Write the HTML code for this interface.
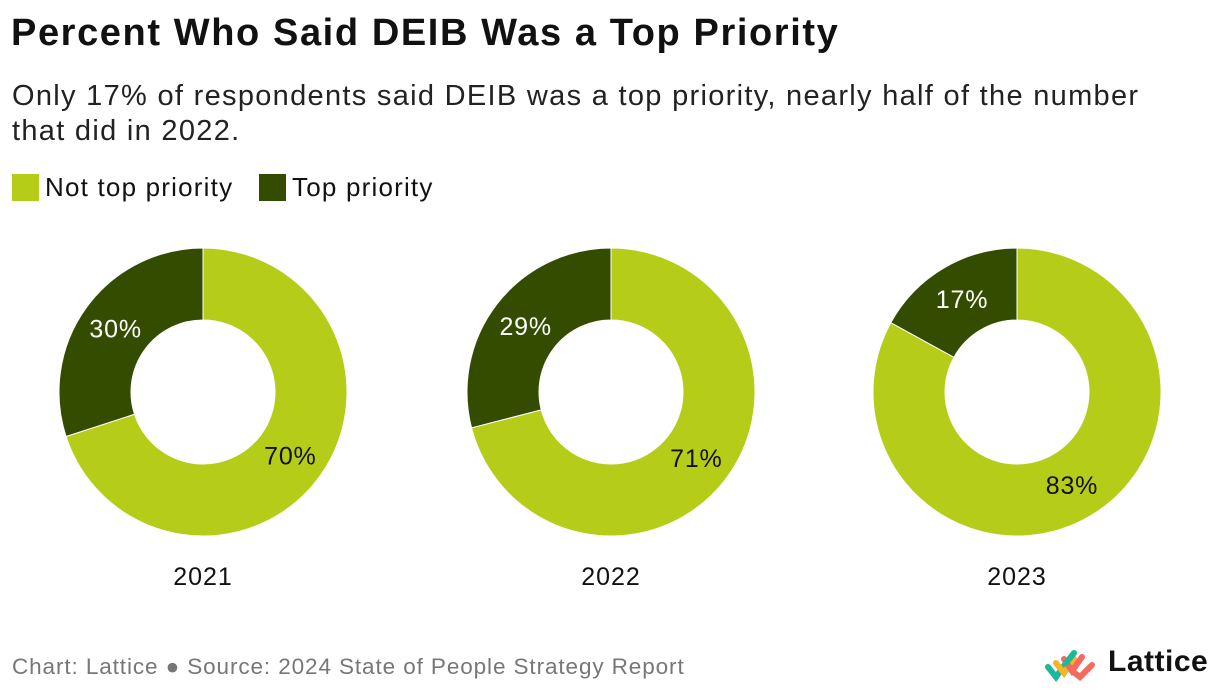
<!DOCTYPE html>
<html><head><meta charset="utf-8"><style>
body{margin:0;width:1220px;height:690px;background:#fff;font-family:"Liberation Sans",sans-serif;color:#111;position:relative;overflow:hidden}
.t{position:absolute;left:11px;top:12px;font-size:38px;font-weight:bold;letter-spacing:1.6px;white-space:nowrap}
.s{position:absolute;left:12px;top:79px;font-size:29px;line-height:35px;width:1165px;color:#222;letter-spacing:1.3px}
.leg{position:absolute;top:172px;font-size:26px;letter-spacing:1.2px;display:flex;align-items:center}
.sw{width:27px;height:27px;margin-right:6px}
.f{position:absolute;left:12px;top:654px;font-size:22.5px;letter-spacing:0.9px;color:#777;white-space:nowrap}
</style></head><body>
<div class="t">Percent Who Said DEIB Was a Top Priority</div>
<div class="s">Only 17% of respondents said DEIB was a top priority, nearly half of the number that did in 2022.</div>
<div class="leg" style="left:12px"><div class="sw" style="background:#b5cc18"></div>Not top priority</div>
<div class="leg" style="left:259px"><div class="sw" style="background:#344c00"></div>Top priority</div>
<svg id="c" width="1220" height="690" style="position:absolute;left:0;top:0"></svg>
<div class="f">Chart: Lattice ● Source: 2024 State of People Strategy Report</div>
<svg style="position:absolute;left:1042px;top:645px" width="60" height="40">
<g stroke-width="6" stroke-linecap="round" fill="none">
<path d="M6 22 L14 32 L24 18" stroke="#1bb89a"/><path d="M14 18 L22 28 L32 14" stroke="#f6b42a"/>
<path d="M22 14 L30 26 L40 12" stroke="#f26b5e"/><path d="M30 26 L38 32 L50 20" stroke="#f26b5e"/>
<path d="M24 18 L32 8" stroke="#1bb89a"/></g></svg>
<div style="position:absolute;left:1108px;top:645px;font-size:30px;font-weight:bold;letter-spacing:0.5px">Lattice</div>
<script>
const years=["2021","2022","2023"];
const topPriority=[30,29,17];
const notTop=[70,71,83];
const centersX=[203,611,1017];
const cy=392,R=144,r=72,svg=document.getElementById('c'),NS="http://www.w3.org/2000/svg";
function pt(a,rad,cx){return [cx+rad*Math.sin(a),cy-rad*Math.cos(a)];}
function arc(cx,a0,a1){const l=(a1-a0)>Math.PI?1:0;const[p0,p1,p2,p3]=[pt(a0,R,cx),pt(a1,R,cx),pt(a1,r,cx),pt(a0,r,cx)];
return `M${p0}A${R},${R} 0 ${l} 1 ${p1}L${p2}A${r},${r} 0 ${l} 0 ${p3}Z`;}
years.forEach((y,i)=>{const cx=centersX[i];const tot=topPriority[i]+notTop[i];
const aT=topPriority[i]/tot*2*Math.PI;
const segs=[[0,2*Math.PI-aT,"#b5cc18",notTop[i],"#111","not-top"],[2*Math.PI-aT,2*Math.PI,"#344c00",topPriority[i],"#fff","top"]];
segs.forEach(s=>{const p=document.createElementNS(NS,"path");p.setAttribute("d",arc(cx,s[0],s[1]));p.setAttribute("fill",s[2]);p.setAttribute("stroke","#fff");p.setAttribute("stroke-width","1");


svg.appendChild(p);
const m=(s[0]+s[1])/2;const q=pt(m,108,cx);const t=document.createElementNS(NS,"text");t.setAttribute("x",q[0]);t.setAttribute("y",q[1]+9);t.setAttribute("text-anchor","middle");t.setAttribute("font-size","25");t.setAttribute("letter-spacing","0.8");t.setAttribute("fill",s[4]);t.textContent=s[3]+"%";


svg.appendChild(t);});
const yl=document.createElementNS(NS,"text");yl.setAttribute("x",cx);yl.setAttribute("y",585);yl.setAttribute("text-anchor","middle");yl.setAttribute("font-size","25");yl.setAttribute("letter-spacing","1");yl.setAttribute("fill","#111");yl.textContent=y;


svg.appendChild(yl);});
</script>
</body></html>
